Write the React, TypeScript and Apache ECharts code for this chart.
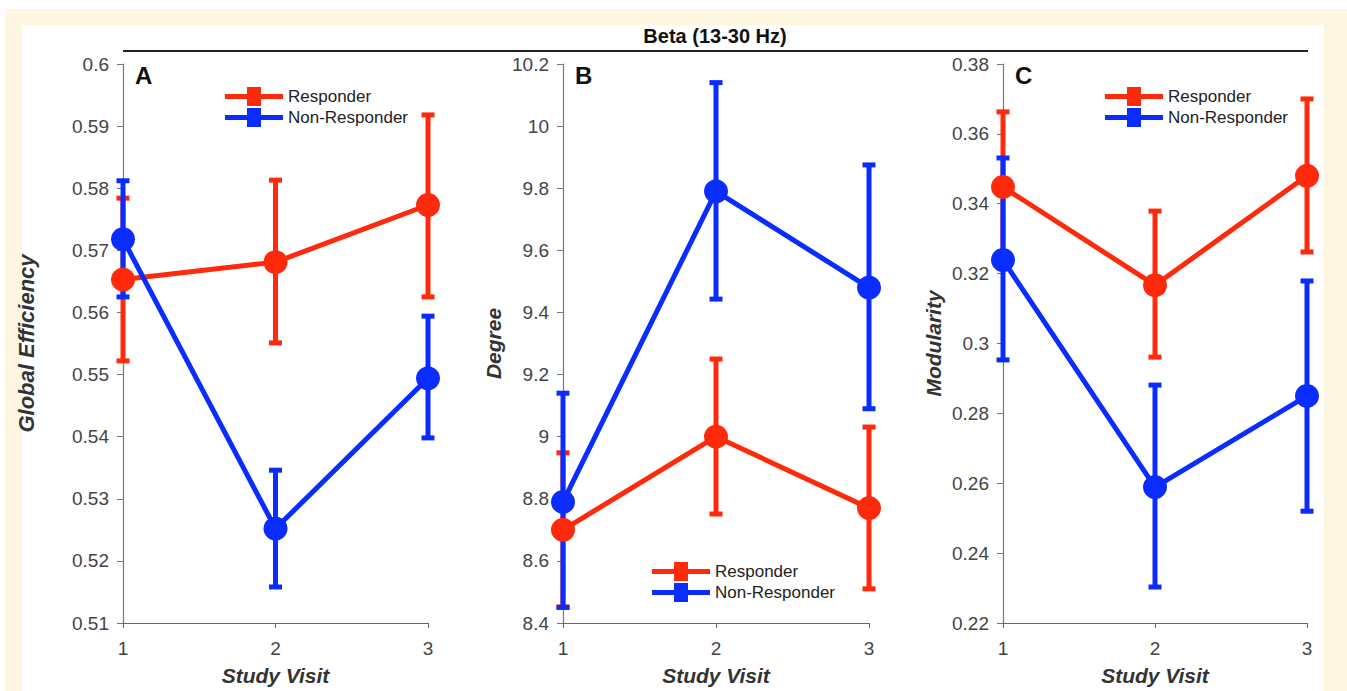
import React, { useEffect, useRef } from "react";
import * as echarts from "echarts";

const visits = [1, 2, 3];
const seriesNames = ["Responder", "Non-Responder"];

// Panel A: Global Efficiency
const effResp = [0.5653, 0.5681, 0.5773];
const effRespLo = [0.5522, 0.5551, 0.5625];
const effRespHi = [0.5784, 0.5813, 0.5918];
const effNon = [0.5718, 0.5252, 0.5494];
const effNonLo = [0.5625, 0.5158, 0.5398];
const effNonHi = [0.5812, 0.5346, 0.5594];

// Panel B: Degree
const degResp = [8.7, 9.0, 8.77];
const degRespLo = [8.452, 8.751, 8.51];
const degRespHi = [8.948, 9.25, 9.031];
const degNon = [8.79, 9.79, 9.48];
const degNonLo = [8.45, 9.443, 9.09];
const degNonHi = [9.14, 10.14, 9.875];

// Panel C: Modularity
const modResp = [0.3448, 0.3167, 0.348];
const modRespLo = [0.3233, 0.2961, 0.3262];
const modRespHi = [0.3663, 0.3379, 0.37];
const modNon = [0.3239, 0.2589, 0.285];
const modNonLo = [0.2953, 0.2303, 0.252];
const modNonHi = [0.3531, 0.2881, 0.3179];

const RED = "#ff2a0c";
const BLUE = "#0b2cff";
const FONT = "'Liberation Sans', Arial, Helvetica, sans-serif";

const panels = [
  {
    letter: "A", yName: "Global Efficiency", min: 0.51, max: 0.6, interval: 0.01, dec: 2,
    left: 123, width: 305, nameGap: 86, nameSize: 22,
    resp: effResp, respLo: effRespLo, respHi: effRespHi,
    non: effNon, nonLo: effNonLo, nonHi: effNonHi,
    legendLeft: 220, legendTop: 82,
  },
  {
    letter: "B", yName: "Degree", min: 8.4, max: 10.2, interval: 0.2, dec: 1,
    left: 563, width: 306, nameGap: 59, nameSize: 21,
    resp: degResp, respLo: degRespLo, respHi: degRespHi,
    non: degNon, nonLo: degNonLo, nonHi: degNonHi,
    legendLeft: 647, legendTop: 557,
  },
  {
    letter: "C", yName: "Modularity", min: 0.22, max: 0.38, interval: 0.02, dec: 2,
    left: 1003, width: 304, nameGap: 59, nameSize: 21,
    resp: modResp, respLo: modRespLo, respHi: modRespHi,
    non: modNon, nonLo: modNonLo, nonHi: modNonHi,
    legendLeft: 1100, legendTop: 82,
  },
];

const LEGEND_ICON = "path://M0,8H58V13H0Z M22,1H36V20H22Z";

function errRender(color: string) {
  return (params: any, api: any) => {
    const x = api.value(0);
    const lo = api.value(1);
    const hi = api.value(2);
    const pHi = api.coord([x, hi]);
    const pLo = api.coord([x, lo]);
    const capW = 13;
    const capH = 5;
    return {
      type: "group",
      children: [
        {
          type: "line",
          shape: { x1: pHi[0], y1: pHi[1], x2: pLo[0], y2: pLo[1] },
          style: { stroke: color, lineWidth: 5 },
        },
        {
          type: "rect",
          shape: { x: pHi[0] - capW / 2, y: pHi[1] - capH / 2, width: capW, height: capH },
          style: { fill: color },
        },
        {
          type: "rect",
          shape: { x: pLo[0] - capW / 2, y: pLo[1] - capH / 2, width: capW, height: capH },
          style: { fill: color },
        },
      ],
    };
  };
}

export default function App() {
  const ref = useRef<HTMLDivElement>(null);

  useEffect(() => {
    document.body.style.margin = "0";
    if (!ref.current) return;
    const chart = echarts.init(ref.current, undefined, { renderer: "svg" });

    const grid: any[] = [];
    const xAxis: any[] = [];
    const yAxis: any[] = [];
    const series: any[] = [];
    const legend: any[] = [];
    const graphic: any[] = [];

    panels.forEach((p, i) => {
      grid.push({ left: p.left, top: 64, width: p.width, height: 559 });
      xAxis.push({
        gridIndex: i, type: "value", min: 1, max: 3, interval: 1,
        name: "Study Visit", nameLocation: "middle", nameGap: 42,
        nameTextStyle: { fontFamily: FONT, fontSize: 21, fontWeight: "bold", fontStyle: "italic", color: "#333" },
        axisLine: { show: true, lineStyle: { color: "#666", width: 1.2 } },
        axisTick: { show: true, length: 5, lineStyle: { color: "#666" } },
        axisLabel: { fontFamily: FONT, fontSize: 19, color: "#444", margin: 16 },
        splitLine: { show: false },
      });
      yAxis.push({
        gridIndex: i, type: "value", min: p.min, max: p.max, interval: p.interval,
        name: p.yName, nameLocation: "middle", nameGap: p.nameGap, nameRotate: 90,
        nameTextStyle: { fontFamily: FONT, fontSize: p.nameSize, fontWeight: "bold", fontStyle: "italic", color: "#333" },
        axisLine: { show: true, lineStyle: { color: "#777", width: 1.2 } },
        axisTick: { show: true, length: 6, lineStyle: { color: "#777" } },
        axisLabel: {
          fontFamily: FONT, fontSize: 19, color: "#444", margin: 14,
          formatter: (v: number) => String(parseFloat(v.toFixed(p.dec))),
        },
        splitLine: { show: false },
      });
      const groups = [
        { name: seriesNames[0], color: RED, vals: p.resp, lo: p.respLo, hi: p.respHi },
        { name: seriesNames[1], color: BLUE, vals: p.non, lo: p.nonLo, hi: p.nonHi },
      ];
      groups.forEach((g) => {
        series.push({
          type: "custom",
          name: g.name + " error",
          xAxisIndex: i, yAxisIndex: i,
          renderItem: errRender(g.color),
          encode: { x: 0, y: [1, 2] },
          data: visits.map((v, k) => [v, g.lo[k], g.hi[k]]),
          clip: false,
          itemStyle: { color: g.color },
        });
        series.push({
          type: "line",
          name: g.name,
          xAxisIndex: i, yAxisIndex: i,
          data: visits.map((v, k) => [v, g.vals[k]]),
          symbol: "circle",
          symbolSize: 24,
          lineStyle: { color: g.color, width: 5 },
          itemStyle: { color: g.color },
          emphasis: { disabled: true },
        });
      });
      legend.push({
        data: seriesNames,
        orient: "vertical",
        left: p.legendLeft,
        top: p.legendTop,
        itemWidth: 58,
        itemHeight: 21,
        itemGap: 2,
        icon: LEGEND_ICON,
        itemStyle: { borderWidth: 0 },
        selectedMode: false,
        textStyle: { fontFamily: FONT, fontSize: 17, color: "#222" },
      });
      graphic.push({
        type: "text",
        left: p.left + 12,
        top: 63,
        style: { text: p.letter, fontFamily: FONT, fontSize: 24, fontWeight: "bold", fill: "#111" },
      });
    });

    graphic.push({
      type: "line",
      shape: { x1: 123, y1: 51, x2: 1308, y2: 51 },
      style: { stroke: "#222", lineWidth: 2 },
    });
    graphic.push({
      type: "text",
      x: 715,
      y: 36,
      style: {
        text: "Beta (13-30 Hz)", fontFamily: FONT, fontSize: 20, fontWeight: "bold", fill: "#111",
        textAlign: "center", textVerticalAlign: "middle",
      },
    });

    chart.setOption({
      animation: false,
      backgroundColor: "transparent",
      grid, xAxis, yAxis, series, legend, graphic,
    });

    return () => chart.dispose();
  }, []);

  return (
    <div style={{ position: "relative", width: 1347, height: 691, background: "#fff", overflow: "hidden" }}>
      <div style={{ position: "absolute", left: 5, top: 9, right: 0, bottom: 0, background: "#fdf7e2" }} />
      <div style={{ position: "absolute", left: 22, top: 25, width: 1302, height: 666, background: "#fff" }} />
      <div ref={ref} style={{ position: "absolute", left: 0, top: 0, width: 1347, height: 691 }} />
    </div>
  );
}
